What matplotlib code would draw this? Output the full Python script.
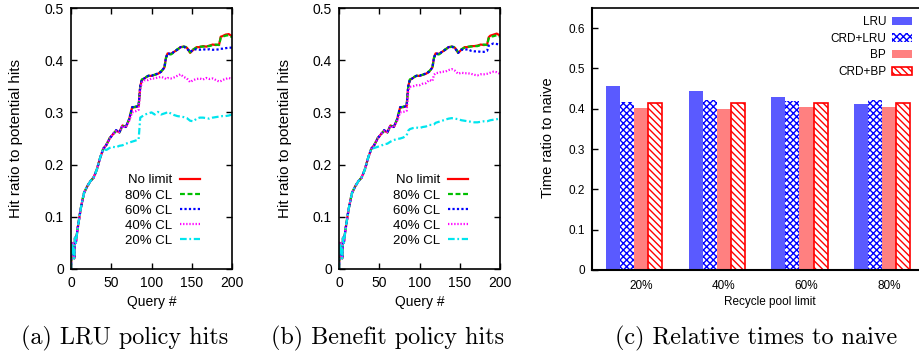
import matplotlib
matplotlib.use("Agg")
import matplotlib.pyplot as plt
from matplotlib.patches import Patch
from matplotlib.ticker import FuncFormatter

plt.rcParams['font.family'] = ['Liberation Sans', 'DejaVu Sans']
plt.rcParams['hatch.linewidth'] = 1.0

# query grid shared by the line panels
queries = [0, 1, 2, 3, 4, 5, 6, 8, 10, 12, 16, 20, 24, 28, 32, 36, 40, 44, 48, 52,
           56, 60, 64, 68, 72, 76, 80, 84, 86, 88, 92, 96, 100, 104, 108, 112, 116, 118, 120, 124,
           128, 132, 136, 140, 144, 148, 152, 156, 160, 164, 168, 172, 176, 180, 184, 186, 188, 192, 196, 200]

start = [0.00, 0.05, 0.03, 0.04, 0.02, 0.06, 0.05, 0.075, 0.095, 0.115, 0.145, 0.158, 0.168, 0.175, 0.19, 0.212, 0.23]

# (a) LRU policy
lru_nolimit = start + [0.238, 0.25, 0.258, 0.265, 0.262, 0.275, 0.272, 0.285, 0.31, 0.31, 0.312, 0.35, 0.362,
                       0.366, 0.37, 0.37, 0.372, 0.374, 0.378, 0.386, 0.405, 0.413, 0.412, 0.416, 0.42, 0.425,
                       0.426, 0.424, 0.414, 0.42, 0.425, 0.425, 0.427, 0.426, 0.428, 0.43, 0.429, 0.43, 0.445,
                       0.446, 0.449, 0.45, 0.446]
lru_80 = start + [0.238, 0.251, 0.257, 0.265, 0.261, 0.274, 0.273, 0.286, 0.309, 0.311, 0.313, 0.349, 0.363,
                  0.367, 0.37, 0.371, 0.372, 0.375, 0.379, 0.385, 0.404, 0.412, 0.411, 0.415, 0.421, 0.424,
                  0.426, 0.425, 0.415, 0.421, 0.424, 0.426, 0.426, 0.427, 0.427, 0.429, 0.43, 0.429, 0.443,
                  0.445, 0.447, 0.448, 0.444]
lru_60 = start + [0.238, 0.25, 0.258, 0.266, 0.262, 0.275, 0.272, 0.286, 0.31, 0.311, 0.312, 0.35, 0.362,
                  0.366, 0.37, 0.37, 0.373, 0.374, 0.378, 0.386, 0.405, 0.413, 0.412, 0.416, 0.42, 0.425,
                  0.426, 0.422, 0.416, 0.42, 0.421, 0.42, 0.421, 0.42, 0.421, 0.42, 0.42, 0.421, 0.422,
                  0.422, 0.423, 0.424, 0.424]
lru_40 = start + [0.238, 0.25, 0.258, 0.264, 0.262, 0.274, 0.271, 0.283, 0.30, 0.302, 0.305, 0.345, 0.357,
                  0.362, 0.362, 0.365, 0.365, 0.367, 0.368, 0.366, 0.364, 0.366, 0.365, 0.367, 0.37, 0.373,
                  0.368, 0.365, 0.358, 0.362, 0.364, 0.365, 0.363, 0.366, 0.364, 0.365, 0.362, 0.359, 0.36,
                  0.362, 0.364, 0.366, 0.364]
lru_20 = start + [0.228, 0.232, 0.234, 0.233, 0.236, 0.237, 0.24, 0.242, 0.244, 0.246, 0.248, 0.29, 0.292,
                  0.296, 0.298, 0.30, 0.296, 0.301, 0.296, 0.298, 0.299, 0.301, 0.298, 0.295, 0.293, 0.292,
                  0.291, 0.289, 0.284, 0.283, 0.288, 0.29, 0.29, 0.289, 0.288, 0.29, 0.291, 0.292, 0.292,
                  0.293, 0.293, 0.294, 0.296]

# (b) Benefit policy
bp_nolimit = start + [0.238, 0.25, 0.258, 0.265, 0.262, 0.275, 0.272, 0.285, 0.31, 0.31, 0.312, 0.35, 0.362,
                      0.366, 0.37, 0.37, 0.372, 0.374, 0.378, 0.386, 0.405, 0.413, 0.412, 0.416, 0.42, 0.425,
                      0.426, 0.424, 0.414, 0.42, 0.425, 0.425, 0.427, 0.427, 0.428, 0.43, 0.429, 0.43, 0.444,
                      0.447, 0.449, 0.451, 0.447]
bp_80 = start + [0.238, 0.251, 0.257, 0.265, 0.261, 0.274, 0.273, 0.286, 0.309, 0.311, 0.313, 0.349, 0.363,
                 0.367, 0.37, 0.371, 0.372, 0.375, 0.379, 0.385, 0.404, 0.412, 0.411, 0.415, 0.421, 0.424,
                 0.426, 0.425, 0.415, 0.421, 0.424, 0.426, 0.426, 0.427, 0.427, 0.429, 0.43, 0.429, 0.442,
                 0.445, 0.446, 0.448, 0.445]
bp_60 = start + [0.238, 0.25, 0.258, 0.266, 0.262, 0.275, 0.272, 0.286, 0.31, 0.311, 0.312, 0.35, 0.362,
                 0.366, 0.37, 0.37, 0.373, 0.374, 0.378, 0.386, 0.405, 0.413, 0.412, 0.416, 0.42, 0.425,
                 0.426, 0.423, 0.414, 0.42, 0.42, 0.421, 0.418, 0.417, 0.417, 0.416, 0.416, 0.418, 0.428,
                 0.43, 0.432, 0.431, 0.43]
bp_40 = start + [0.238, 0.25, 0.258, 0.264, 0.262, 0.274, 0.271, 0.283, 0.30, 0.301, 0.303, 0.34, 0.349,
                 0.35, 0.352, 0.352, 0.355, 0.356, 0.362, 0.36, 0.372, 0.375, 0.376, 0.378, 0.378, 0.381,
                 0.383, 0.38, 0.374, 0.376, 0.375, 0.375, 0.374, 0.372, 0.371, 0.373, 0.373, 0.374, 0.375,
                 0.376, 0.378, 0.377, 0.374]
bp_20 = start + [0.232, 0.234, 0.236, 0.239, 0.24, 0.244, 0.247, 0.249, 0.25, 0.252, 0.256, 0.265, 0.268,
                 0.27, 0.271, 0.27, 0.272, 0.273, 0.276, 0.276, 0.277, 0.28, 0.282, 0.284, 0.286, 0.288,
                 0.289, 0.288, 0.287, 0.285, 0.284, 0.283, 0.282, 0.281, 0.281, 0.282, 0.283, 0.283, 0.284,
                 0.285, 0.286, 0.287, 0.288]

line_labels = ['No limit', '80% CL', '60% CL', '40% CL', '20% CL']

# (c) relative times
pool_limits = ['20%', '40%', '60%', '80%']
t_lru = [0.457, 0.445, 0.430, 0.412]
t_crd_lru = [0.417, 0.422, 0.420, 0.422]
t_bp = [0.403, 0.400, 0.405, 0.405]
t_crd_bp = [0.414, 0.414, 0.414, 0.415]

W, H = 919, 360
fig = plt.figure(figsize=(W / 100, H / 100), dpi=100)

def fx(px):
    return px / W

def fy(py):
    return (H - py) / H

styles = [dict(color='#ff0000', linestyle='-'),
          dict(color='#00c000', dashes=(2.2, 1.2)),
          dict(color='#0000ff', dashes=(1.0, 1.0)),
          dict(color='#ff00ff', dashes=(0.6, 0.8)),
          dict(color='#00e5ee', dashes=(3.0, 1.2, 0.8, 1.2))]

fmt = FuncFormatter(lambda v, p: '%g' % round(v, 2))

def line_panel(left, series):
    ax = fig.add_axes([fx(left), fy(269), 161 / W, 261 / H])
    for vals, lab, st in zip(series, line_labels, styles):
        ax.plot(queries, vals, lw=1.6, label=lab, **st)
    ax.set_xlim(0, 200)
    ax.set_ylim(0, 0.5)
    ax.set_xticks([0, 50, 100, 150, 200])
    ax.set_yticks([0, 0.1, 0.2, 0.3, 0.4, 0.5])
    ax.yaxis.set_major_formatter(fmt)
    ax.tick_params(direction='in', top=True, right=True, length=4, width=1,
                   labelsize=10, pad=5)
    for s in ax.spines.values():
        s.set_linewidth(1.2)
    ax.legend(loc='lower right', bbox_to_anchor=(fx(left + 129), fy(247)),
              bbox_transform=fig.transFigure, frameon=False, markerfirst=False,
              fontsize=9.5, handlelength=1.5, handletextpad=0.6, labelspacing=0.22,
              borderpad=0, borderaxespad=0)
    fig.text(fx(left + 80.5), fy(302), 'Query #', ha='center', va='center', fontsize=10)
    return ax

line_panel(71, [lru_nolimit, lru_80, lru_60, lru_40, lru_20])
fig.text(fx(16), fy(138), 'Hit ratio to potential hits', rotation=90,
         ha='center', va='center', fontsize=11)
line_panel(339, [bp_nolimit, bp_80, bp_60, bp_40, bp_20])
fig.text(fx(285), fy(138), 'Hit ratio to potential hits', rotation=90,
         ha='center', va='center', fontsize=11)

# bar panel, right part cut off by the figure edge like the original
axc = fig.add_axes([fx(592), fy(270), 356 / W, 262 / H])
bw = 0.17
xs = list(range(len(pool_limits)))
bar_styles = [dict(color='#5a5aff', linewidth=0),
              dict(facecolor='white', edgecolor='#0000ff', linewidth=0, hatch='xxxxx'),
              dict(color='#ff8080', linewidth=0),
              dict(facecolor='white', edgecolor='#ff0000', linewidth=1.2, hatch='\\\\\\\\\\')]
bar_labels = ['LRU', 'CRD+LRU', 'BP', 'CRD+BP']
for k, (vals, st) in enumerate(zip([t_lru, t_crd_lru, t_bp, t_crd_bp], bar_styles)):
    axc.bar([x + (k - 2) * bw for x in xs], vals, width=bw, **st)
axc.set_xlim(-0.593, 3.71)
axc.set_ylim(0, 0.65)
axc.set_xticks(xs)
axc.set_xticklabels(pool_limits)
axc.set_yticks([0, 0.1, 0.2, 0.3, 0.4, 0.5, 0.6])
axc.yaxis.set_major_formatter(fmt)
axc.tick_params(axis='y', direction='in', length=4, width=1, labelsize=8.5, pad=5)
axc.tick_params(axis='x', length=0, labelsize=8.5, pad=7)
axc.spines['left'].set_linewidth(1.5)
axc.spines['bottom'].set_linewidth(1.5)
axc.spines['top'].set_linewidth(1.2)
axc.spines['right'].set_visible(False)
handles = [Patch(label=l, **st) for l, st in zip(bar_labels, bar_styles)]
axc.legend(handles=handles, loc='upper right', bbox_to_anchor=(fx(912), fy(16)),
           bbox_transform=fig.transFigure, frameon=False, markerfirst=False,
           fontsize=8.5, handlelength=1.7, handleheight=0.7, handletextpad=0.5,
           labelspacing=0.4, borderpad=0, borderaxespad=0)
fig.text(fx(548), fy(138), 'Time ratio to naive', rotation=90,
         ha='center', va='center', fontsize=10.5)
fig.text(fx(770), fy(302), 'Recycle pool limit', ha='center', va='center', fontsize=8.5)

# captions
cap = dict(ha='center', va='center', fontsize=17.4, family='cmr10')
fig.text(fx(125), fy(338), '(a) LRU policy hits', **cap)
fig.text(fx(388), fy(338), '(b) Benefit policy hits', **cap)
fig.text(fx(756), fy(338), '(c) Relative times to naive', **cap)

fig.savefig('out.png', dpi=100, facecolor='white')
